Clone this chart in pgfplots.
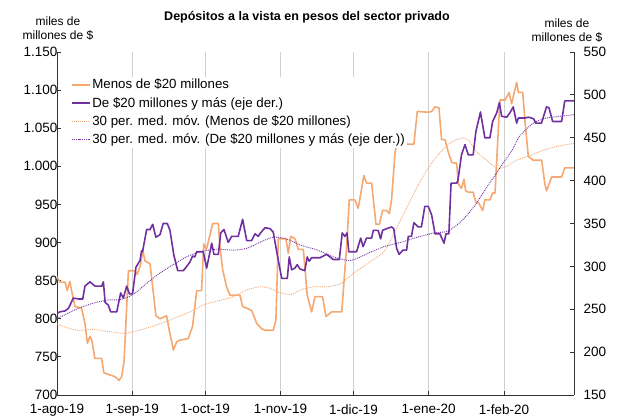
\documentclass[border=0pt]{standalone}
\usepackage{pgfplots}
\pgfplotsset{compat=1.18}
\usepackage{fontspec}
\setmainfont{Liberation Sans}
\definecolor{cor}{RGB}{245,168,114}
\definecolor{cpu}{RGB}{112,48,160}
\pgfplotsset{
  base/.style={
    scale only axis, width=517pt, height=343pt,
    xmin=0, xmax=212.8,
    tick label style={font=\fontsize{13.5}{16}\selectfont},
    /pgf/number format/1000 sep={.},
    /pgf/number format/assume math mode=true,
    axis line style={black!80, line width=0.8pt},
    tick style={black!80, line width=0.8pt},
    major tick length=4pt,
  }
}
\begin{document}
\begin{tikzpicture}
\begin{axis}[base,
  ymin=700, ymax=1150,
  axis x line*=bottom, axis y line*=left,
  xtick={0,31,61,92,122,153,184},
  xticklabels={1-ago-19,1-sep-19,1-oct-19,1-nov-19,1-dic-19,1-ene-20,1-feb-20},
  xticklabel style={yshift=-6pt},
  yticklabel style={xshift=4pt},
  xmajorgrids, grid style={black!18, line width=0.8pt},
  ytick={700,750,...,1150},
]
\addplot[cor, line width=1.6pt, line join=round] coordinates {
(0,855) (1.2,848) (3.3,848) (4.2,837) (5.3,849) (6,837) (7.4,816) (10.1,814)
(11.5,794) (12.5,768) (13.6,777) (14.3,772) (15.6,748) (18.4,748) (19.3,729)
(21.2,727) (23.9,724) (25.5,719) (26.6,724) (27.6,744) (29.4,863) (32.1,863)
(33,858) (34.3,870) (35.3,890) (36.2,876) (38.3,872) (40.7,804) (42.4,800)
(45.1,804) (46.2,785) (47.9,759) (49.3,770) (50.6,772) (54,774) (55.8,790)
(57.5,837) (59.5,837) (60.4,898) (61.5,891) (64.1,925) (66.4,925) (67.1,894)
(68.2,864) (69.8,842) (71.2,831) (75.3,831) (76.4,816) (78,814) (80.1,811)
(82.2,794) (84.2,787) (85.6,785) (89,785) (90.1,798) (91.1,905) (94.2,905)
(95.2,886) (96.2,908) (98,905) (99.3,891) (101.4,891) (103,831) (104.8,809)
(106.2,829) (109.3,829) (110.7,803) (113,809) (117.2,809) (119.2,894)
(120.3,956) (122.6,956) (124,945) (126.3,988) (127.4,978) (129.5,978)
(131.3,924) (132.7,924) (134,942) (135.7,942) (136.8,938) (137.7,956)
(139.1,1017) (141.2,1059) (142.8,1059) (143.9,1029) (146.9,1029) (148.3,1072)
(152.8,1071) (154.2,1072) (155.6,1078) (157.2,1077) (158.3,1035) (159.7,1035)
(161,1019) (162.5,1005) (164.5,1004) (165.2,977) (166.5,971) (167.5,983)
(168.2,968) (169.3,966) (171.3,966) (172.4,953) (173.6,952) (175.2,942)
(176.1,956) (178.2,956) (179.3,965) (180.3,965) (181.2,1021) (182.3,1087)
(184.4,1087) (186.1,1097) (187.1,1082) (189.2,1110) (189.9,1097) (191.7,1097)
(192.6,1060) (194,1013) (196,1008) (199.5,1008) (200.8,977) (201.5,968)
(203.6,986) (207.7,986) (209,998) (212.8,998)
};
\addplot[cor, line width=0.9pt, densely dotted, smooth] coordinates {
(0,793) (8,785) (14.8,786) (21.7,783) (27.9,781) (34,785) (41,792) (47.8,800)
(54.7,809) (60.9,819) (67,824) (72.5,829) (78,837.6) (83.5,842) (87.6,840)
(91.8,834) (96.6,832) (100,837.6) (105.8,842) (111.3,842) (116.8,846)
(120.9,857) (127.8,872.5) (134.6,888) (138.7,912) (144.2,947) (148.3,973)
(153,999) (158,1019) (162.5,1032) (167,1037) (169.5,1034) (172.7,1019)
(176.8,1008) (180.9,998) (184.4,999) (189.2,1008) (194.7,1014) (200.1,1021)
(205.6,1026) (212.8,1030)
};
\end{axis}
\begin{axis}[base,
  ymin=150, ymax=550,
  axis x line=none, axis y line*=right,
  ytick={150,200,...,550},
  yticklabel style={xshift=6pt},
  legend style={at={(0.027,0.929)}, anchor=north west, draw=none, fill=white,
    font=\fontsize{13.3}{15}\selectfont, row sep=3pt, inner sep=0.5pt},
  legend cell align=left,
]
\addlegendimage{cor, line width=1.6pt}
\addlegendentry{Menos de \$20 millones}
\addplot[cpu, line width=1.6pt, line join=round] coordinates {
(0,245) (1.2,247) (3.3,248) (4.7,251) (6.7,263) (8.8,262) (10.6,262) (11.5,277)
(13.6,282) (15.6,277) (18.4,277) (19.1,282) (19.8,258) (21.1,255) (22.1,247)
(24.6,247) (26.2,269) (27.3,263) (28.7,277) (29.8,268) (31.1,268) (32.5,299)
(34.2,307) (34.8,318) (35.2,317) (36.9,343) (38.3,343) (39.4,349) (40.7,334)
(42.4,337) (43.7,350) (45.4,350) (46.5,342) (48.1,313) (49.7,295) (52,295)
(53.4,300) (54.7,305) (55.8,312) (56.7,311) (57.5,317) (59.5,317) (60.2,317)
(61.6,298) (63.7,327) (64.6,314) (66.4,314) (67.4,339) (68.7,343) (70.5,328)
(71.9,335) (74.6,335) (76.4,355) (78.1,330) (80.1,330) (81.5,338) (82.8,335)
(83.8,339) (85.6,345) (87.7,344) (89,340) (90.7,313) (92.5,286) (94.8,286)
(95.6,311) (96.6,296) (97.9,298) (98.9,302) (100,297) (102,295) (103,311)
(103.8,306) (104.8,310) (108.2,310) (111,314) (113.7,308) (116.2,308)
(117.4,339) (118.5,335) (119.4,339) (120.1,317) (123.3,317) (125,333)
(126,323) (127.4,333) (129.5,333) (130.2,342) (132.2,342) (133.2,332)
(134,342) (135.7,344) (137.7,346) (138.6,344) (139.8,321) (140.8,314)
(142.4,319) (143.9,319) (144.6,335) (145.9,335) (146.9,351) (148.7,346)
(150,346) (151.4,370) (152.8,370) (154.2,360) (155.6,338) (157.6,338)
(159.3,327) (160.1,338) (161.3,338) (162.2,397) (164.5,397) (165,400)
(166.5,430) (167.9,442) (169.3,430) (171.3,430) (172.4,457) (174.3,480)
(175.2,465) (176.1,450) (178.2,450) (179.3,469) (181,479) (182.1,491)
(183,475) (185.1,474) (186.4,479) (187.8,486) (189.2,467) (189.9,473)
(192.6,473) (194,474) (195.3,473) (196.2,472) (197.1,467) (199.4,467)
(201.5,486) (202.5,485) (204,469) (207.7,469) (209,493) (212.8,493)
};
\addlegendentry{De \$20 millones y más (eje der.)}
\addlegendimage{cor, line width=0.9pt, densely dotted}
\addlegendentry{30 per. med. móv. (Menos de \$20 millones)}
\addplot[cpu, line width=0.9pt, densely dotted, smooth] coordinates {
(0,239) (8,250) (14.8,257) (21.7,261) (25.8,261) (31.3,267) (36.8,280)
(42.3,292) (47.8,302) (53.3,311) (58.8,317) (65.7,320) (72.5,319) (78,321)
(83.5,328) (89,334) (94.5,332) (100,325) (107.2,319) (114,311) (120.9,307)
(127.8,315) (134.6,323) (141.5,328) (148.3,334) (155.2,339) (160.7,341)
(166.2,352) (171.7,370) (177.1,393) (182.6,416) (187.4,436) (190.5,452)
(196,467) (201.5,473) (207,475) (212.8,477)
};
\addlegendentry{30 per. med. móv. (De \$20 millones y más (eje der.))}
\end{axis}
\node[font=\bfseries\fontsize{12.5}{14}\selectfont] at (250pt,378pt)
  {Depósitos a la vista en pesos del sector privado};
\node[align=center, font=\fontsize{12}{14}\selectfont] at (1pt,366pt)
  {miles de\\millones de \$};
\node[align=center, font=\fontsize{12}{14}\selectfont] at (510pt,364pt)
  {miles de\\millones de \$};
\pgfresetboundingbox
\path[use as bounding box] (-57pt,-23pt) rectangle (565pt,395pt);
\end{tikzpicture}
\end{document}
